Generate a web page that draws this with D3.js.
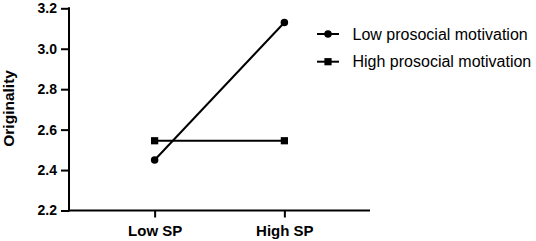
<!DOCTYPE html>
<html>
<head>
<meta charset="utf-8">
<script src="https://cdn.jsdelivr.net/npm/d3@7"></script>
<style>
  body { margin: 0; background: #fff; }
  svg { display: block; font-family: Arial, "Liberation Sans", sans-serif; }
</style>
</head>
<body>
<div class="box"></div>
<script>
// data
const categories = ['Low SP', 'High SP'];
const lowProsocial = [2.45, 3.13];
const highProsocial = [2.545, 2.545];
const yTicks = [2.2, 2.4, 2.6, 2.8, 3.0, 3.2];
const seriesNames = ['Low prosocial motivation', 'High prosocial motivation'];

const svg = d3.select('.box')
              .append('svg')
              .attr('width', 536)
              .attr('height', 241);

const plotLeft = 69, plotRight = 370, plotTop = 8.3, plotBottom = 210.5;

const y = d3.scaleLinear()
            .domain([2.2, 3.2])
            .range([plotBottom, plotTop]);

const x = d3.scalePoint()
            .domain(categories)
            .range([plotLeft, plotRight])
            .padding(0.66);

// axes
const axeY = d3.axisLeft(y)
               .tickValues(yTicks)
               .tickFormat(d3.format('.1f'))
               .tickSize(8)
               .tickPadding(4);
const axeX = d3.axisBottom(x)
               .tickSize(7)
               .tickPadding(8);

const groupeY = svg.append('g')
                   .attr('transform', `translate(${plotLeft}, 0)`)
                   .call(axeY);
const groupeX = svg.append('g')
                   .attr('transform', `translate(0, ${plotBottom})`)
                   .call(axeX);

[groupeX, groupeY].forEach(g => {
  g.select('.domain').attr('stroke', '#000').attr('stroke-width', 2);
  g.selectAll('.tick line').attr('stroke', '#000').attr('stroke-width', 2);
  g.selectAll('text')
   .attr('fill', '#000')
   .style('font-weight', 'bold')
   .style('font-family', 'Arial, "Liberation Sans", sans-serif');
});
groupeY.selectAll('text').style('font-size', '14px');
groupeX.selectAll('text').style('font-size', '15px');
groupeY.select('.domain').attr('d', `M0,${plotTop - 1}V${plotBottom + 1}`);
groupeX.select('.domain').attr('d', `M${plotLeft - 1},0H${plotRight}`);

// y title
svg.append('text')
   .attr('transform', `translate(14, ${(plotTop + plotBottom) / 2 - 1}) rotate(-90)`)
   .attr('text-anchor', 'middle')
   .style('font-size', '15.5px')
   .style('font-weight', 'bold')
   .text('Originality');

// lines
const line = d3.line()
               .x((d, i) => x(categories[i]))
               .y(d => y(d));

const series = [
  { name: seriesNames[0], values: lowProsocial, shape: d3.symbolCircle, size: 44 },
  { name: seriesNames[1], values: highProsocial, shape: d3.symbolSquare, size: 52 }
];

series.forEach(s => {
  svg.append('path')
     .attr('d', line(s.values))
     .attr('fill', 'none')
     .attr('stroke', '#000')
     .attr('stroke-width', 2);
  svg.selectAll(null)
     .data(s.values)
     .enter()
     .append('path')
     .attr('d', d3.symbol().type(s.shape).size(s.size))
     .attr('transform', (d, i) => `translate(${x(categories[i])}, ${y(d)})`)
     .attr('fill', '#000');
});

// legend
const legend = svg.append('g').attr('transform', 'translate(317, 34)');
series.forEach((s, i) => {
  const row = legend.append('g').attr('transform', `translate(0, ${i * 27.7})`);
  row.append('line')
     .attr('x1', 0).attr('x2', 22)
     .attr('stroke', '#000').attr('stroke-width', 2);
  row.append('path')
     .attr('d', d3.symbol().type(s.shape).size(s.size))
     .attr('transform', 'translate(11, 0)')
     .attr('fill', '#000');
  row.append('text')
     .attr('x', 35.5)
     .attr('dy', '0.36em')
     .style('font-size', '16px')
     .text(s.name);
});
</script>
</body>
</html>
